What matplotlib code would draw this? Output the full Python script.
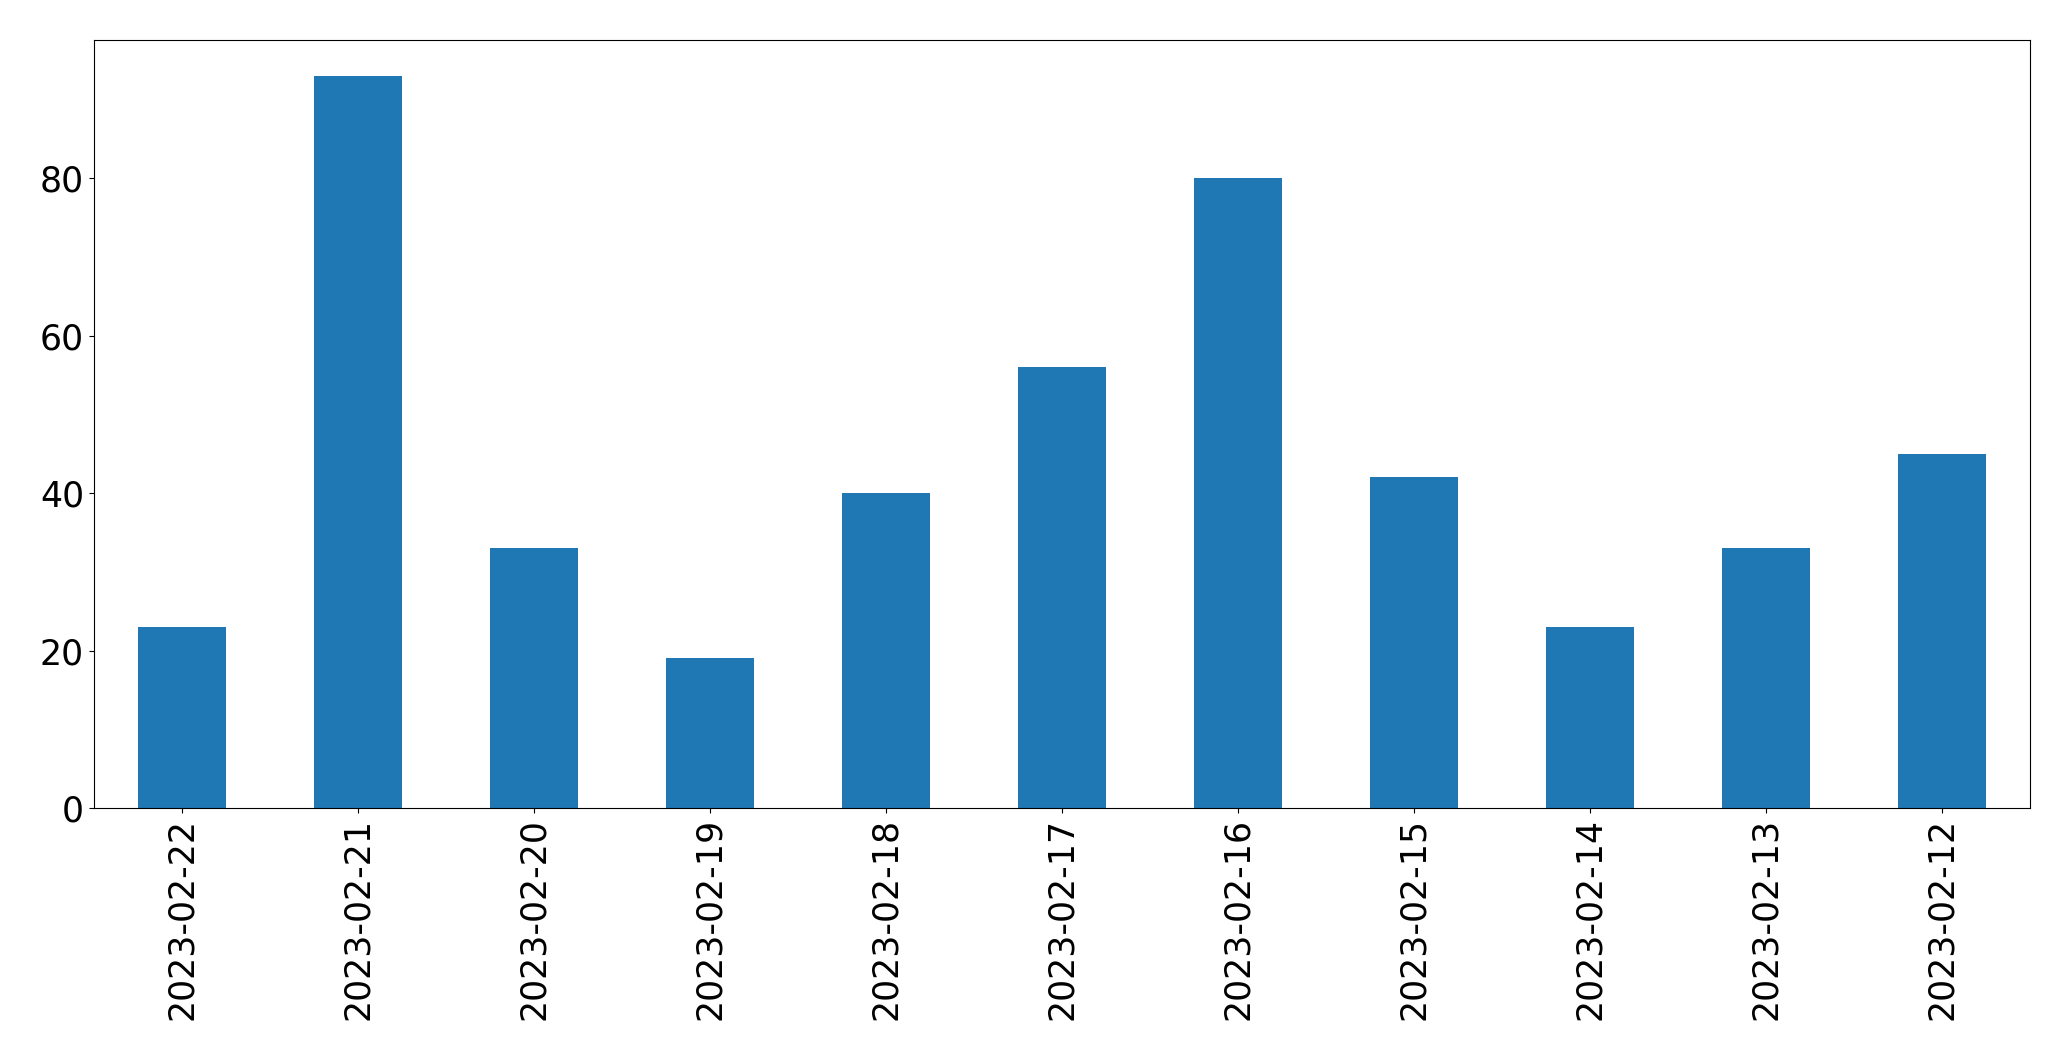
import matplotlib
matplotlib.use('Agg')
import matplotlib.pyplot as plt
import pandas as pd

dates = ['2023-02-22', '2023-02-21', '2023-02-20', '2023-02-19', '2023-02-18', '2023-02-17',
         '2023-02-16', '2023-02-15', '2023-02-14', '2023-02-13', '2023-02-12']
counts = [23, 93, 33, 19, 40, 56, 80, 42, 23, 33, 45]

s = pd.Series(counts, index=dates)

fig, ax = plt.subplots(figsize=(20.71, 10.61), dpi=100)
s.plot(kind='bar', ax=ax, color='#1f77b4')
ax.tick_params(axis='both', labelsize=25)
plt.subplots_adjust(left=0.0453, right=0.980, top=0.9627, bottom=0.2385)
plt.savefig('out.png', dpi=100)
